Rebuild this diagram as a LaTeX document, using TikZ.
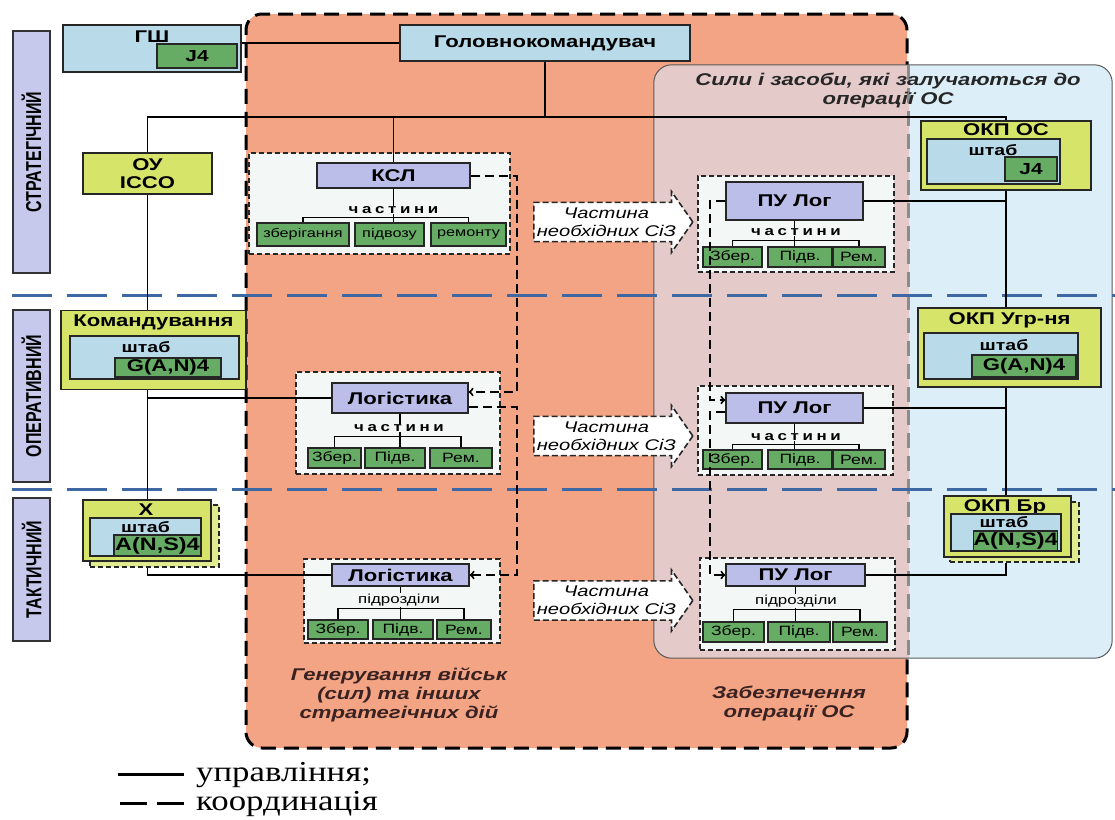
\documentclass[tikz,border=0pt]{standalone}
\usepackage{graphicx}
\usepackage{fontspec}
\setmainfont{Liberation Sans}[FakeStretch=1.3]
\newfontfamily\plainsans{Liberation Sans}
\newfontfamily\legfont{Liberation Serif}[FakeStretch=1.2]
\usetikzlibrary{shapes.arrows}

\definecolor{paneblue}{RGB}{184,218,233}
\definecolor{unitgreen}{RGB}{102,172,100}
\definecolor{lavfill}{RGB}{186,190,232}
\definecolor{ygfill}{RGB}{214,228,106}
\definecolor{grpfill}{RGB}{243,248,246}
\definecolor{lvlfill}{RGB}{198,201,236}
\definecolor{salmonfill}{RGB}{243,164,132}
\definecolor{regionblue}{RGB}{220,238,248}
\definecolor{overlapfill}{RGB}{229,202,202}
\definecolor{dashblue}{RGB}{62,104,164}
\definecolor{areatext}{RGB}{58,34,34}

\newcommand\levtext[1]{\scalebox{1}[1.35]{\plainsans\bfseries\fontsize{16}{16}\selectfont #1}}

\begin{document}
\begin{tikzpicture}[x=1pt, y=-1pt,
    sz/.style 2 args={minimum width=#1, minimum height=#2},
    basebox/.style={draw=black!85, line width=1.3pt, inner sep=0pt, align=center, font=\bfseries\fontsize{17}{18}\selectfont},
    bluebox/.style={basebox, fill=paneblue},
    greenbox/.style={basebox, fill=unitgreen},
    lavbox/.style={basebox, fill=lavfill},
    ygbox/.style={basebox, fill=ygfill},
    ygshadow/.style={draw=black!85, line width=1.3pt, dash pattern=on 5pt off 3pt, fill=ygfill!75, inner sep=0pt},
    unitbox/.style={basebox, fill=unitgreen, font=\fontsize{13.5}{14}\selectfont},
    grp/.style={draw=black!85, line width=1.3pt, dash pattern=on 5pt off 3pt, fill=grpfill, inner sep=0pt},
    lvl/.style={draw=black!80, line width=1.5pt, fill=lvlfill, rotate=90, inner sep=0pt},
    genarea/.style={draw=black, fill=salmonfill, line width=3pt, dash pattern=on 15pt off 8pt, rounded corners=16pt, inner sep=0pt},
    boxtitle/.style={inner sep=0pt, font=\bfseries\fontsize{17}{18}\selectfont},
    hqtext/.style={inner sep=0pt, font=\bfseries\fontsize{15}{16}\selectfont},
    parts/.style={inner sep=0.5pt, fill=grpfill, font=\bfseries\fontsize{13}{14}\selectfont\addfontfeatures{LetterSpace=28}},
    subunits/.style={inner sep=0.5pt, fill=grpfill, font=\fontsize{13}{14}\selectfont},
    flow/.style={single arrow, draw=black!85, fill=white, line width=1.6pt, dash pattern=on 6pt off 3pt,
      single arrow head extend=9pt, single arrow tip angle=110, minimum height=159, minimum width=61,
      inner xsep=-6pt, inner ysep=1pt, align=center, font=\itshape\fontsize{15.5}{18}\selectfont},
    area/.style={align=center, inner sep=0pt, text=areatext, font=\bfseries\itshape\fontsize{17}{19}\selectfont},
    ctrl/.style={line width=1.6pt},
    treeline/.style={line width=1.2pt},
    coordline/.style={line width=2pt, dash pattern=on 9pt off 5pt},
    levelsep/.style={dashblue, line width=3pt, dash pattern=on 40pt off 15pt},
    legtext/.style={inner sep=0pt, font=\legfont\fontsize{29}{30}\selectfont}]

  \useasboundingbox (0,0) rectangle (1115,819);

  \node[genarea, sz={661}{734}] (gen) at (576.5,381) {};
  \node[fill=regionblue, rounded corners=18pt, inner sep=0pt, sz={458}{593}] (sili) at (883,361.5) {};
  \begin{scope}
    \clip[rounded corners=18pt] (sili.north west) rectangle (sili.south east);
    \fill[overlapfill] (sili.north west) rectangle (gen.east |- sili.south);
  \end{scope}
  \draw[black!65, line width=1pt, rounded corners=18pt] (sili.north west) rectangle (sili.south east);
  \draw[black!45, line width=3pt, dash pattern=on 15pt off 8pt] (gen.east |- sili.north) -- (gen.east |- sili.south);

  \draw[levelsep] (12,295) -- (1115,295);
  \draw[levelsep] (12,489) -- (1115,489);

  \node[lvl, sz={242}{37}] (strat) at (31.5,152) {\levtext{СТРАТЕГІЧНИЙ}};
  \node[lvl, sz={172}{37}] (oper) at (31.5,396) {\levtext{ОПЕРАТИВНИЙ}};
  \node[lvl, sz={143}{37}] (tact) at (31.5,569.5) {\levtext{ТАКТИЧНИЙ}};

  \node[grp, sz={261}{101}] (g1) at (379.5,203.5) {};
  \node[grp, sz={204}{102}] (g2) at (398,423) {};
  \node[grp, sz={196}{84}] (g3) at (402,601) {};
  \node[grp, sz={196}{96}] (g4) at (796,224) {};
  \node[grp, sz={195}{89}] (g5) at (795.5,430.5) {};
  \node[grp, sz={195}{92}] (g6) at (797.5,604) {};

  \node[area] (genlbl) at (399,695) {Генерування військ\\(сил) та інших\\стратегічних дій};
  \node[area] (oplbl) at (789,704) {Забезпечення\\операції ОС};
  \node[area, text=black!85] (sililbl) at (888,91) {Сили і засоби, які залучаються до\\операції ОС};

  \node[flow, anchor=tail] (a1) at (533,222) {Частина\\необхідних СіЗ};
  \node[flow, anchor=tail] (a2) at (533,436) {Частина\\необхідних СіЗ};
  \node[flow, anchor=tail] (a3) at (533,600.5) {Частина\\необхідних СіЗ};

  \node[bluebox, sz={178}{47}] (gsh) at (152,48.5) {};
  \node[greenbox, sz={80}{24}, font=\bfseries\fontsize{16}{16}\selectfont] (gshj) at (197,56) {J4};
  \node[boxtitle] (gshlbl) at (152,37) {ГШ};
  \node[bluebox, sz={290}{36}] (gk) at (545,43) {Головнокомандувач};
  \node[ygbox, sz={129}{41}] (ou) at (147.5,173.5) {ОУ\\ICCO};

  \node[ygbox, sz={185}{79}] (kom) at (153.5,350) {};
  \node[boxtitle] (komlbl) at (153.5,322) {Командування};
  \node[bluebox, sz={169}{43}] (komhq) at (154.5,357.5) {};
  \node[hqtext] (komhqlbl) at (146,347) {штаб};
  \node[greenbox, sz={106}{19}] (komg) at (168,367.5) {G(A,N)4};

  \node[ygshadow, sz={129}{62}] (xbs) at (154.5,536) {};
  \node[ygbox, sz={128}{61}] (xb) at (147,530.5) {};
  \node[boxtitle] (xblbl) at (146,510) {X};
  \node[bluebox, sz={111}{38}] (xbhq) at (145.5,537) {};
  \node[hqtext] (xbhqlbl) at (145.5,527) {штаб};
  \node[greenbox, sz={87}{21}, font=\bfseries\fontsize{18}{18}\selectfont] (xbg) at (157.5,545.5) {A(N,S)4};

  \node[ygbox, sz={170}{69}] (okpos) at (1006,155.5) {};
  \node[boxtitle] (okposlbl) at (1006,130) {ОКП ОС};
  \node[bluebox, sz={133}{45}] (okposhq) at (993.5,161.5) {};
  \node[hqtext] (okposhqlbl) at (993,150) {штаб};
  \node[greenbox, sz={52}{24}, font=\bfseries\fontsize{16}{16}\selectfont] (okposj) at (1031,169) {J4};

  \node[ygbox, sz={183}{79}] (okpug) at (1009.5,347.5) {};
  \node[boxtitle] (okpuglbl) at (1009.5,320) {ОКП Угр-ня};
  \node[bluebox, sz={154}{46}] (okpughq) at (1001,356) {};
  \node[hqtext] (okpughqlbl) at (1004,345) {штаб};
  \node[greenbox, sz={104}{22}] (okpugg) at (1024,366) {G(A,N)4};

  \node[ygshadow, sz={129}{60}] (okpbrs) at (1014.5,532) {};
  \node[ygbox, sz={127}{61}] (okpbr) at (1007.5,526.5) {};
  \node[boxtitle] (okpbrlbl) at (1005,507) {ОКП Бр};
  \node[bluebox, sz={110}{37}] (okpbrhq) at (1006,532.5) {};
  \node[hqtext] (okpbrhqlbl) at (1004,522) {штаб};
  \node[greenbox, sz={81}{20}, font=\bfseries\fontsize{18}{18}\selectfont] (okpbrg) at (1015.5,541) {A(N,S)4};

  \node[lavbox, sz={153}{25}] (ksl) at (393.5,175.5) {КСЛ};
  \node[unitbox, sz={92}{23}, font=\fontsize{12.5}{13}\selectfont] (k1a) at (303,234.5) {зберігання};
  \node[unitbox, sz={69}{23}, font=\fontsize{12.5}{13}\selectfont] (k1b) at (389.5,234.5) {підвозу};
  \node[unitbox, sz={75}{23}, font=\fontsize{12.5}{13}\selectfont] (k1c) at (468.5,234.5) {ремонту};

  \node[lavbox, sz={136}{30}] (log2) at (400,398) {Логістика};
  \node[unitbox, sz={53}{20}] (l2a) at (334.5,458) {Збер.};
  \node[unitbox, sz={60}{20}] (l2b) at (395,458) {Підв.};
  \node[unitbox, sz={62}{20}] (l2c) at (461,458) {Рем.};

  \node[lavbox, sz={137}{22}] (log3) at (400.5,575) {Логістика};
  \node[unitbox, sz={60}{19}] (l3a) at (338,629.5) {Збер.};
  \node[unitbox, sz={60}{19}] (l3b) at (403,629.5) {Підв.};
  \node[unitbox, sz={54}{19}] (l3c) at (464,629.5) {Рем.};

  \node[lavbox, sz={137}{38}] (pul1) at (794.5,201) {ПУ Лог};
  \node[unitbox, sz={59}{20}] (p1a) at (732.5,257) {Збер.};
  \node[unitbox, sz={64}{20}] (p1b) at (800,257) {Підв.};
  \node[unitbox, sz={52}{20}] (p1c) at (859,257) {Рем.};

  \node[lavbox, sz={137}{30}] (pul2) at (794.5,408) {ПУ Лог};
  \node[unitbox, sz={59}{19}] (p2a) at (732.5,459.5) {Збер.};
  \node[unitbox, sz={64}{19}] (p2b) at (800,459.5) {Підв.};
  \node[unitbox, sz={52}{19}] (p2c) at (859,459.5) {Рем.};

  \node[lavbox, sz={139}{22}] (pul3) at (795.5,575) {ПУ Лог};
  \node[unitbox, sz={61}{20}] (p3a) at (733.5,632) {Збер.};
  \node[unitbox, sz={62}{20}] (p3b) at (799,632) {Підв.};
  \node[unitbox, sz={54}{20}] (p3c) at (860,632) {Рем.};

  \coordinate (busr) at (1006,117);
  \draw[ctrl] (gk.west) -- (gk.west -| gsh.east);
  \draw[ctrl] (ou.north) |- (busr) -- (okpos.north);
  \draw[ctrl] (gk.south) -- (gk.south |- busr);
  \draw[ctrl] (ksl.north) -- (ksl.north |- busr);
  \draw[ctrl] (ou.south) -- (ou.south |- kom.north);
  \draw[ctrl] (ou.south |- kom.south) -- (ou.south |- xb.north);
  \draw[ctrl] (log2.west) -- (log2.west -| ou.south);
  \draw[ctrl] (log3.west) -| (ou.south |- xbs.south);
  \draw[ctrl] (okpos.south) -- (okpos.south |- okpug.north);
  \draw[ctrl] (okpos.south |- okpug.south) -- (okpos.south |- okpbr.north);
  \draw[ctrl] (pul1.east) -- (pul1.east -| okpos.south);
  \draw[ctrl] (pul2.east) -- (pul2.east -| okpos.south);
  \draw[ctrl] (pul3.east) -| (okpos.south |- okpbrs.south);

  \draw[treeline] (ksl.south) -- (ksl.south |- k1b.north);
  \draw[treeline] (k1a.north) -- ++(0,-5) -| (k1c.north);
  \draw[treeline] (log2.south) -- (log2.south |- l2b.north);
  \draw[treeline] (l2a.north) -- ++(0,-11) -| (l2c.north);
  \draw[treeline] (log3.south) -- (log3.south |- l3b.north);
  \draw[treeline] (l3a.north) -- ++(0,-11) -| (l3c.north);
  \draw[treeline] (pul1.south) -- (pul1.south |- p1b.north);
  \draw[treeline] (p1a.north) -- ++(0,-6) -| (p1c.north);
  \draw[treeline] (pul2.south) -- (pul2.south |- p2b.north);
  \draw[treeline] (p2a.north) -- ++(0,-5) -| (p2c.north);
  \draw[treeline] (pul3.south) -- (pul3.south |- p3b.north);
  \draw[treeline] (p3a.north) -- ++(0,-12) -| (p3c.north);

  \draw[coordline, ->] (ksl.east) -- ++(46,0) |- ([yshift=6pt]log2.east);
  \draw[coordline, ->] ([yshift=-9pt]log2.east) -- ++(48,0) |- (log3.east);
  \draw[coordline, ->] (pul1.west) -- ++(-15,0) |- ([yshift=8pt]pul2.west);
  \draw[coordline, ->] ([yshift=-4pt]pul2.west) -- ++(-15,0) |- (pul3.west);

  \node[parts] (k1t) at (393.5,210) {частини};
  \node[parts] (l2t) at (399,428) {частини};
  \node[subunits] (l3t) at (399,600) {підрозділи};
  \node[parts] (p1t) at (796,232) {частини};
  \node[parts] (p2t) at (796,437) {частини};
  \node[subunits] (p3t) at (796,601) {підрозділи};

  \node[legtext, anchor=base west] (lg1) at (196,781) {управління;};
  \node[legtext, anchor=base west] (lg2) at (196,810) {координація};
  \draw[line width=2.5pt] ([xshift=-12pt]lg1.west) -- ++(-66,0);
  \draw[line width=2.5pt, dash pattern=on 27pt off 10pt] ([xshift=-12pt]lg2.west) -- ++(-66,0);
\end{tikzpicture}
\end{document}
